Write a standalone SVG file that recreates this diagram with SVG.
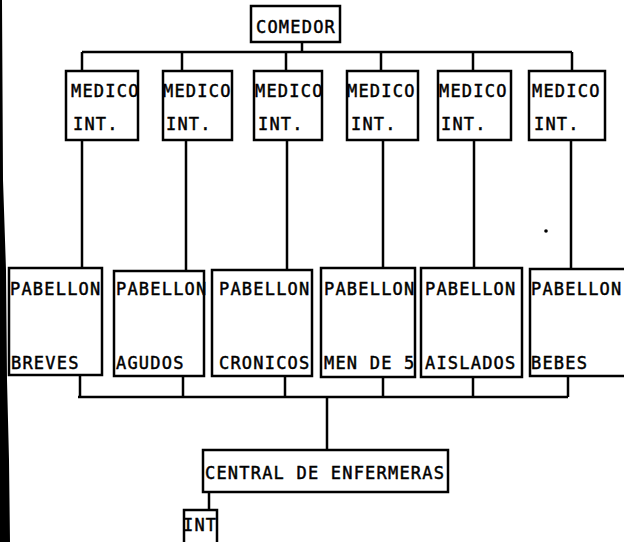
<svg xmlns="http://www.w3.org/2000/svg" width="624" height="542" viewBox="0 0 624 542">
<style>
.box{fill:#fff;stroke:#000;stroke-width:2.5}
.t{font-family:"DejaVu Sans Mono","Liberation Mono",monospace;font-size:17px;letter-spacing:1.2px;fill:#000;stroke:#000;stroke-width:0.45}
.c{fill:none;stroke:#000;stroke-width:2.5}
</style>
<rect width="624" height="542" fill="#fff"/>
<polygon points="0,0 2,0 3,180 6,270 7,380 9,460 10,542 0,542" fill="#000"/>
<circle cx="546" cy="231" r="1.8" fill="#000"/>
<g id="connectors">
<path class="c" d="M302,42 V52 M82,52 H572 M82,52 V71 M182,52 V71 M286,52 V71 M381,52 V71 M473,52 V71 M572,52 V71"/>
<path class="c" d="M82,140 V268 M186,140 V271 M287,140 V270 M383,140 V268 M474,140 V268 M571,140 V269"/>
<path class="c" d="M80,375 V397 M183,376 V397 M285,376 V397 M383,377 V397 M473,377 V397 M568,376 V397 M78,397 H568 M327,397 V450"/>
<path class="c" d="M209,492 V510"/>
</g>
<g id="comedor"><rect class="box" x="251" y="6" width="89" height="36"/><text class="t" x="256" y="33">COMEDOR</text></g>
<g id="medico1"><rect class="box" x="66" y="71" width="72" height="69"/><text class="t" x="71" y="97">MEDICO</text><text class="t" x="73" y="130">INT.</text></g>
<g id="medico2"><rect class="box" x="163" y="71" width="69" height="69"/><text class="t" x="163" y="97">MEDICO</text><text class="t" x="166" y="130">INT.</text></g>
<g id="medico3"><rect class="box" x="254" y="71" width="68" height="69"/><text class="t" x="255" y="97">MEDICO</text><text class="t" x="258" y="130">INT.</text></g>
<g id="medico4"><rect class="box" x="347" y="71" width="71" height="69"/><text class="t" x="347" y="97">MEDICO</text><text class="t" x="351" y="130">INT.</text></g>
<g id="medico5"><rect class="box" x="438" y="71" width="73" height="69"/><text class="t" x="439" y="97">MEDICO</text><text class="t" x="441" y="130">INT.</text></g>
<g id="medico6"><rect class="box" x="529" y="71" width="76" height="69"/><text class="t" x="532" y="97">MEDICO</text><text class="t" x="534" y="130">INT.</text></g>
<g id="pab1"><rect class="box" x="9" y="268" width="93" height="107"/><text class="t" x="10" y="295">PABELLON</text><text class="t" x="11" y="369">BREVES</text></g>
<g id="pab2"><rect class="box" x="114" y="271" width="90" height="105"/><text class="t" x="116" y="295">PABELLON</text><text class="t" x="116" y="369">AGUDOS</text></g>
<g id="pab3"><rect class="box" x="212" y="270" width="100" height="106"/><text class="t" x="219" y="295">PABELLON</text><text class="t" x="219" y="369">CRONICOS</text></g>
<g id="pab4"><rect class="box" x="321" y="268" width="94" height="109"/><text class="t" x="324" y="295">PABELLON</text><text class="t" x="324" y="369">MEN DE 5</text></g>
<g id="pab5"><rect class="box" x="421" y="268" width="101" height="109"/><text class="t" x="425" y="295">PABELLON</text><text class="t" x="425" y="369">AISLADOS</text></g>
<g id="pab6"><path class="box" d="M626,269 H530 V376 H626"/><text class="t" x="531" y="295">PABELLON</text><text class="t" x="531" y="369">BEBES</text></g>
<g id="central"><rect class="box" x="203" y="450" width="245" height="42"/><text class="t" x="205" y="479">CENTRAL DE ENFERMERAS</text></g>
<g id="int"><path class="box" d="M184,545 V510 H217 V545"/><text class="t" x="183" y="531">INT</text></g>
</svg>
